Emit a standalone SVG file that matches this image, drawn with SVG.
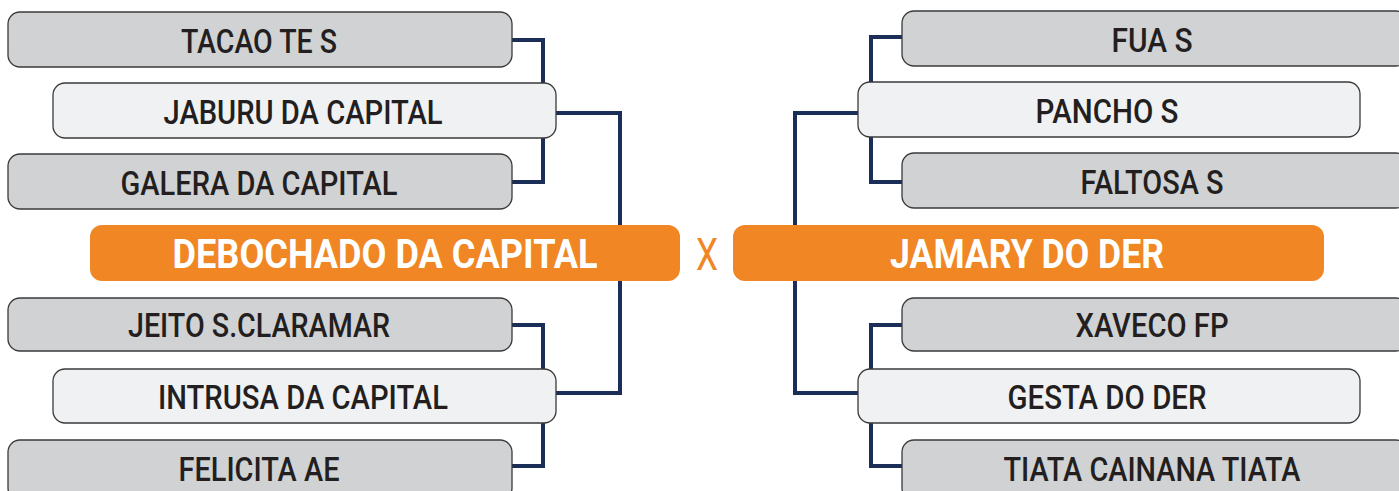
<svg xmlns="http://www.w3.org/2000/svg" width="1399" height="491" viewBox="0 0 1399 491">
<style>
.g{fill:#d1d2d4;stroke:#3a3a3a;stroke-width:1.3}
.l{fill:#f0f1f3;stroke:#3a3a3a;stroke-width:1.3}
.o{fill:#f08624}
.t{font-family:Roboto,"Liberation Sans",sans-serif;font-weight:500;font-size:34px;fill:#231f20;text-anchor:middle}
.w{font-family:Roboto,"Liberation Sans",sans-serif;font-weight:700;font-size:40px;fill:#ffffff;text-anchor:middle}
.c{fill:none;stroke:#1b2e57;stroke-width:4;stroke-linejoin:miter}
</style>
<rect width="1399" height="491" fill="#ffffff"/>
<g id="connectors">
<path class="c" d="M512 40H543V83M512 182H543V138"/>
<path class="c" d="M556 113H620V225M620 281V393H556"/>
<path class="c" d="M512 325H543V369M512 466H543V422"/>
<path class="c" d="M902 37H871V82M902 182H871V137"/>
<path class="c" d="M858 113H795V225M795 281V393H858"/>
<path class="c" d="M902 325H871V369M902 466H871V422"/>
</g>
<g id="n-tacao"><rect class="g" x="8" y="12" width="504" height="55" rx="12"/><text class="t" x="259" y="53" textLength="156" lengthAdjust="spacingAndGlyphs">TACAO TE S</text></g>
<g id="n-jaburu"><rect class="l" x="53" y="83" width="503" height="55" rx="12"/><text class="t" x="303" y="124" textLength="279" lengthAdjust="spacingAndGlyphs">JABURU DA CAPITAL</text></g>
<g id="n-galera"><rect class="g" x="8" y="154" width="504" height="55" rx="12"/><text class="t" x="259" y="195" textLength="277" lengthAdjust="spacingAndGlyphs">GALERA DA CAPITAL</text></g>
<g id="n-debochado"><rect class="o" x="90" y="225" width="590" height="56" rx="12"/><text class="w" x="385" y="268" textLength="425" lengthAdjust="spacingAndGlyphs">DEBOCHADO DA CAPITAL</text></g>
<g id="n-x"><text x="707" y="270" font-family="Roboto,'Liberation Sans',sans-serif" font-size="45" fill="#f08624" text-anchor="middle" textLength="22" lengthAdjust="spacingAndGlyphs">X</text></g>
<g id="n-jeito"><rect class="g" x="8" y="298" width="504" height="53" rx="12"/><text class="t" x="259" y="337" textLength="262" lengthAdjust="spacingAndGlyphs">JEITO S.CLARAMAR</text></g>
<g id="n-intrusa"><rect class="l" x="53" y="369" width="503" height="54" rx="12"/><text class="t" x="303" y="409" textLength="290" lengthAdjust="spacingAndGlyphs">INTRUSA DA CAPITAL</text></g>
<g id="n-felicita"><rect class="g" x="8" y="440" width="504" height="60" rx="12"/><text class="t" x="259" y="481" textLength="161" lengthAdjust="spacingAndGlyphs">FELICITA AE</text></g>
<g id="n-fua"><rect class="g" x="902" y="11" width="506" height="55" rx="12"/><text class="t" x="1152" y="52" textLength="81" lengthAdjust="spacingAndGlyphs">FUA S</text></g>
<g id="n-pancho"><rect class="l" x="858" y="82" width="502" height="55" rx="12"/><text class="t" x="1107" y="123" textLength="143" lengthAdjust="spacingAndGlyphs">PANCHO S</text></g>
<g id="n-faltosa"><rect class="g" x="902" y="153" width="506" height="55" rx="12"/><text class="t" x="1152" y="194" textLength="143" lengthAdjust="spacingAndGlyphs">FALTOSA S</text></g>
<g id="n-jamary"><rect class="o" x="733" y="225" width="591" height="56" rx="12"/><text class="w" x="1027" y="268" textLength="274" lengthAdjust="spacingAndGlyphs">JAMARY DO DER</text></g>
<g id="n-xaveco"><rect class="g" x="902" y="298" width="506" height="53" rx="12"/><text class="t" x="1152" y="337" textLength="153" lengthAdjust="spacingAndGlyphs">XAVECO FP</text></g>
<g id="n-gesta"><rect class="l" x="858" y="369" width="502" height="54" rx="12"/><text class="t" x="1107" y="409" textLength="199" lengthAdjust="spacingAndGlyphs">GESTA DO DER</text></g>
<g id="n-tiata"><rect class="g" x="902" y="440" width="506" height="60" rx="12"/><text class="t" x="1152" y="481" textLength="297" lengthAdjust="spacingAndGlyphs">TIATA CAINANA TIATA</text></g>
</svg>
